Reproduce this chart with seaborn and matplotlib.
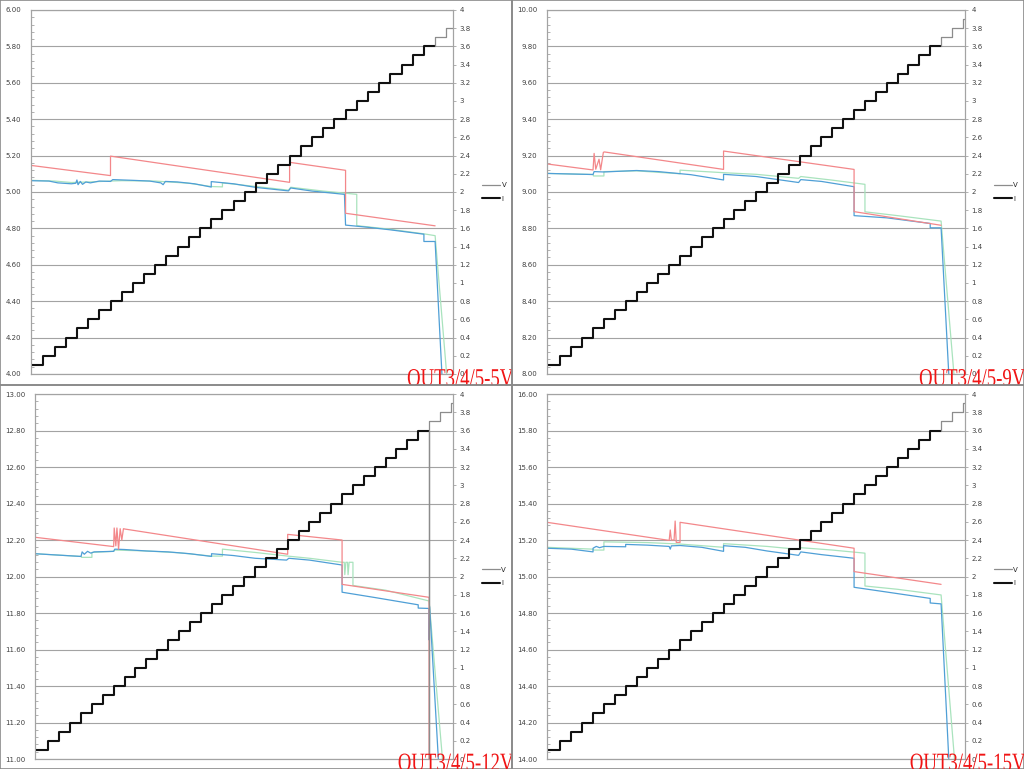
import numpy as np
import seaborn as sns
import matplotlib.pyplot as plt
from matplotlib.lines import Line2D
from matplotlib.ticker import MultipleLocator, FormatStrFormatter, FuncFormatter
from matplotlib.patheffects import AbstractPathEffect
from matplotlib.transforms import Affine2D

# Panel labels and axis ranges
titles = ["OUT3/4/5-5V", "OUT3/4/5-9V", "OUT3/4/5-12V", "OUT3/4/5-15V"]
v_ranges = [(4.0, 6.0), (8.0, 10.0), (11.0, 13.0), (14.0, 16.0)]
t_ranges = [(-0.10, 37.6), (-0.23, 38.2), (-0.23, 38.2), (-0.23, 38.2)]

# Load current, one value per test step (A)
current = [0.1, 0.2, 0.3, 0.4, 0.5, 0.6, 0.7, 0.8, 0.9, 1.0,
           1.1, 1.2, 1.3, 1.4, 1.5, 1.6, 1.7, 1.8, 1.9, 2.0,
           2.1, 2.2, 2.3, 2.4, 2.5, 2.6, 2.7, 2.8, 2.9, 3.0,
           3.1, 3.2, 3.3, 3.4, 3.5, 3.6, 3.7, 3.8, 3.9]
black_steps = 36            # steps drawn as "I", the rest is grey
trip_dip = [None, None, 0.0, None]   # current dip at the trip point

# ---- 5V output: (step, volts) ----
red5_t = [-0.1, 7, 7, 23, 23, 28, 28, 36]
red5_v = [5.146, 5.090, 5.197, 5.053, 5.163, 5.119, 4.883, 4.814]
blue5_t = [-0.1, 1.5, 2.3, 3.5, 3.9, 4.0, 4.1, 4.3, 4.5, 4.8, 5.2, 6.0, 7.0, 7.2, 9.0,
           10.5, 11.5, 11.7, 11.9, 13.0, 14.5, 16.0, 16.0, 18.0, 20.0, 22.9, 23.1,
           25.0, 27.9, 28.0, 30.0, 32.0, 35.0, 35.0, 36.0, 36.65]
blue5_v = [5.062, 5.060, 5.050, 5.045, 5.048, 5.066, 5.040, 5.058, 5.042, 5.055, 5.050,
           5.060, 5.058, 5.068, 5.064, 5.060, 5.050, 5.040, 5.058, 5.055, 5.045, 5.027,
           5.057, 5.045, 5.025, 5.006, 5.022, 5.005, 4.987, 4.818, 4.806, 4.792, 4.768,
           4.728, 4.728, 3.95]
green5_t = [-0.1, 2.0, 3.5, 5.0, 7.0, 8.0, 11.0, 14.0, 16.0, 17.0, 17.0, 20.0, 22.9,
            23.1, 26.0, 29.0, 29.0, 32.0, 35.0, 36.0, 37.1]
green5_v = [5.064, 5.060, 5.052, 5.055, 5.060, 5.062, 5.060, 5.048, 5.030, 5.028, 5.050,
            5.030, 5.010, 5.026, 5.005, 4.987, 4.815, 4.795, 4.770, 4.760, 3.95]

# ---- 9V output ----
red9_t = [-0.23, 4.0, 4.1, 4.25, 4.55, 4.7, 4.95, 5.05, 16.0, 16.0, 28.0, 28.0, 36.0]
red9_v = [9.154, 9.121, 9.212, 9.125, 9.180, 9.122, 9.218, 9.220, 9.124, 9.225, 9.124,
          8.892, 8.817]
blue9_t = [-0.23, 4.0, 4.1, 5.0, 8.0, 10.0, 13.0, 16.0, 16.0, 19.0, 22.9, 23.1, 25.0,
           28.0, 28.0, 31.0, 35.0, 35.0, 36.0, 36.75]
blue9_v = [9.102, 9.096, 9.112, 9.110, 9.118, 9.112, 9.095, 9.066, 9.097, 9.085, 9.052,
           9.068, 9.058, 9.029, 8.870, 8.858, 8.827, 8.803, 8.803, 7.95]
green9_t = [-0.23, 4.0, 4.05, 5.0, 5.0, 8.0, 12.0, 12.0, 16.0, 19.0, 22.9, 23.1, 26.0,
            29.0, 29.0, 32.0, 36.0, 37.25]
green9_v = [9.102, 9.096, 9.088, 9.088, 9.112, 9.116, 9.100, 9.120, 9.106, 9.097, 9.075,
            9.085, 9.065, 9.042, 8.891, 8.870, 8.840, 7.95]

# ---- 12V output ----
red12_t = [-0.23, 7.0, 7.05, 7.2, 7.3, 7.45, 7.6, 7.75, 7.9, 8.05, 23.0, 23.0, 28.0,
           28.0, 36.0, 36.0]
red12_v = [12.215, 12.164, 12.266, 12.168, 12.266, 12.150, 12.262, 12.200, 12.262,
           12.260, 12.122, 12.231, 12.200, 11.957, 11.886, 10.9]
blue12_t = [-0.23, 4.0, 4.1, 4.3, 4.6, 4.9, 5.2, 7.0, 7.1, 8.0, 10.0, 12.0, 14.0, 16.0,
            16.0, 18.0, 20.0, 22.9, 23.1, 25.0, 28.0, 28.0, 31.0, 35.0, 35.0, 35.98,
            36.0, 36.05, 36.9]
blue12_v = [12.125, 12.110, 12.135, 12.122, 12.138, 12.128, 12.135, 12.138, 12.150,
            12.148, 12.140, 12.135, 12.125, 12.110, 12.125, 12.115, 12.100, 12.090,
            12.100, 12.090, 12.063, 11.914, 11.885, 11.845, 11.827, 11.825, 11.652,
            11.835, 10.95]
green12_t = [-0.23, 4.0, 4.05, 5.0, 5.0, 7.0, 7.1, 10.0, 13.0, 16.0, 17.0, 17.0, 20.0,
             23.0, 25.0, 28.0, 28.2, 28.25, 28.35, 28.5, 28.55, 28.65, 29.0, 29.0, 32.0,
             36.0, 37.3]
green12_v = [12.125, 12.110, 12.105, 12.105, 12.132, 12.138, 12.145, 12.140, 12.130,
             12.112, 12.112, 12.150, 12.132, 12.112, 12.100, 12.078, 12.078, 12.010,
             12.078, 12.078, 12.010, 12.078, 12.078, 11.951, 11.925, 11.866, 10.95]

# ---- 15V output ----
red15_t = [-0.23, 11.0, 11.1, 11.2, 11.45, 11.55, 11.65, 12.0, 12.0, 28.0, 28.0, 36.0]
red15_v = [15.297, 15.198, 15.255, 15.200, 15.200, 15.304, 15.187, 15.187, 15.297,
           15.155, 15.027, 14.957]
blue15_t = [-0.23, 2.0, 4.0, 4.0, 4.3, 4.6, 5.0, 7.0, 7.0, 9.0, 11.0, 11.1, 11.2, 12.0,
            14.0, 16.0, 16.0, 18.0, 20.0, 22.9, 23.1, 25.0, 28.0, 28.0, 31.0, 35.0,
            35.0, 36.0, 36.75]
blue15_v = [15.155, 15.150, 15.135, 15.155, 15.165, 15.158, 15.165, 15.163, 15.176,
            15.172, 15.165, 15.150, 15.168, 15.170, 15.160, 15.138, 15.169, 15.160,
            15.140, 15.116, 15.135, 15.120, 15.100, 14.941, 14.915, 14.880, 14.855,
            14.850, 13.95]
green15_t = [-0.23, 4.0, 4.05, 5.0, 5.0, 9.0, 12.0, 16.0, 16.0, 20.0, 23.0, 23.1, 26.0,
             29.0, 29.0, 32.0, 36.0, 37.3]
green15_v = [15.160, 15.150, 15.145, 15.145, 15.190, 15.186, 15.178, 15.160, 15.180,
             15.165, 15.148, 15.158, 15.145, 15.128, 14.948, 14.930, 14.899, 13.95]

series = [
    [(green5_t, green5_v), (blue5_t, blue5_v), (red5_t, red5_v)],
    [(green9_t, green9_v), (blue9_t, blue9_v), (red9_t, red9_v)],
    [(green12_t, green12_v), (blue12_t, blue12_v), (red12_t, red12_v)],
    [(green15_t, green15_v), (blue15_t, blue15_v), (red15_t, red15_v)],
]
line_colors = ["#a9e3bd", "#4f9fd6", "#f3878a"]

# Axes rectangles (figure fractions) and quadrant frames
plot_pos = [[0.0303, 0.5137, 0.4121, 0.4733],
            [0.5342, 0.5137, 0.4082, 0.4733],
            [0.0342, 0.0130, 0.4082, 0.4746],
            [0.5342, 0.0130, 0.4082, 0.4746]]
frame_pos = [[0, 0.5, 0.5, 0.5], [0.5, 0.5, 0.5, 0.5],
             [0, 0, 0.5, 0.5], [0.5, 0, 0.5, 0.5]]
title_x = [0.795, 0.795, 0.777, 0.777]


class Squeeze(AbstractPathEffect):
    """Draw text glyphs narrower, like the tall condensed label font."""
    def __init__(self, sx):
        super().__init__()
        self.sx = sx

    def draw_path(self, renderer, gc, tpath, affine, rgbFace=None):
        m = affine.get_matrix().copy()
        m[0, :2] *= self.sx
        renderer.draw_path(gc, tpath, Affine2D(m), rgbFace)


def stairs(vals, edges):
    xs = np.repeat(edges, 2)[1:-1]
    ys = np.repeat(vals, 2)
    return xs, ys


sns.set_style("white")
plt.rcParams["font.family"] = ["DejaVu Sans"]

grid_c = "#a3a3a3"
tick_c = "#404040"

fig = plt.figure(figsize=(10.24, 7.69), dpi=100)

for i in range(4):
    ax = fig.add_axes(plot_pos[i])
    ax.set_facecolor("none")
    for (t, v), c in zip(series[i], line_colors):
        sns.lineplot(x=np.array(t), y=np.array(v), ax=ax, color=c, linewidth=0.9,
                     estimator=None, sort=False, legend=False)
    ax.set_xlim(*t_ranges[i])
    ax.set_ylim(*v_ranges[i])
    ax.yaxis.set_major_locator(MultipleLocator(0.2))
    ax.yaxis.set_minor_locator(MultipleLocator(0.04))
    ax.yaxis.set_major_formatter(FormatStrFormatter("%.2f"))
    ax.set_xticks([])
    ax.set_xlabel("")
    ax.set_ylabel("")
    ax.grid(axis="y", which="major", color=grid_c, linewidth=0.8)
    ax.tick_params(axis="y", which="major", length=0, pad=7, labelsize=5, labelcolor=tick_c)
    ax.tick_params(axis="y", which="minor", direction="in", length=2, width=0.6, color=grid_c)
    for s in ax.spines.values():
        s.set_color(grid_c)
        s.set_linewidth(0.8)

    # current staircase on the secondary axis
    ax2 = ax.twinx()
    lo = t_ranges[i][0] - 1
    edges = np.r_[lo, np.arange(1, len(current)), len(current)]
    xs, ys = stairs(current[:black_steps], edges[:black_steps + 1])
    sns.lineplot(x=xs, y=ys, ax=ax2, color="#111111", linewidth=1.5,
                 estimator=None, sort=False, legend=False)
    gx, gy = stairs(current[black_steps - 1:], np.r_[black_steps, edges[black_steps:]])
    if trip_dip[i] is not None:
        gx = np.insert(gx, 1, black_steps)
        gy = np.insert(gy, 1, trip_dip[i])
    sns.lineplot(x=gx, y=gy, ax=ax2, color="#8c8c8c", linewidth=0.9,
                 estimator=None, sort=False, legend=False)
    ax2.set_ylim(0, 4)
    ax2.set_xlim(*t_ranges[i])
    ax2.set_xticks([])
    ax2.set_ylabel("")
    ax2.yaxis.set_major_locator(MultipleLocator(0.2))
    ax2.yaxis.set_major_formatter(FuncFormatter(lambda v, p: f"{round(v, 1):g}"))
    ax2.tick_params(axis="y", length=2, width=0.6, color=grid_c, pad=2.5,
                    labelsize=5, labelcolor=tick_c)
    for s in ax2.spines.values():
        s.set_color(grid_c)
        s.set_linewidth(0.8)

    handles = [Line2D([], [], color="#8c8c8c", lw=0.9),
               Line2D([], [], color="#111111", lw=1.5)]
    ax2.legend(handles, ["V", "I"], loc="center left", bbox_to_anchor=(1.063, 0.5),
               frameon=False, fontsize=5, handlelength=2.6, handletextpad=0.15,
               labelspacing=1.1, borderaxespad=0)

    # quadrant frame with the red output label, clipped at the frame edge
    fr = fig.add_axes(frame_pos[i], zorder=5)
    fr.set_facecolor("none")
    fr.set_xticks([])
    fr.set_yticks([])
    for s in fr.spines.values():
        s.set_color("#8a8a8a")
        s.set_linewidth(1.2)
    fr.text(title_x[i], -0.004, titles[i], transform=fr.transAxes, ha="left",
            va="baseline", color="#f01414", fontsize=18.5, family="Liberation Serif",
            clip_on=True, path_effects=[Squeeze(0.73)])

fig.savefig("out.png", dpi=100)
plt.close(fig)
